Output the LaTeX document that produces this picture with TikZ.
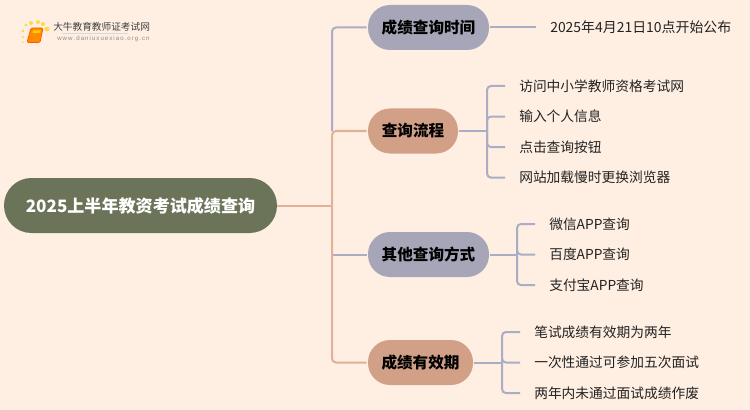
\documentclass[tikz,border=0pt]{standalone}
\usepackage{fontspec}
\setmainfont{Noto Sans CJK SC}
\newfontfamily\latinfont{Liberation Sans}
\usetikzlibrary{positioning}
\definecolor{fondo}{HTML}{FFEFE2}
\definecolor{raiz}{HTML}{6B7359}
\definecolor{gris}{HTML}{A6A6B8}
\definecolor{cobre}{HTML}{D2A087}
\definecolor{lineagris}{HTML}{ABADC4}
\definecolor{lineacobre}{HTML}{E2B096}
\definecolor{texto}{HTML}{222222}

\begin{document}
\begin{tikzpicture}[
		x=0.75pt, y=-0.75pt,
		% --- estilos de los bloques ---
		root_box/.style = {fill=raiz, text=white, rectangle, rounded corners=20.5pt, minimum height=41.25pt, minimum width=204.75pt, inner sep=0pt, font=\fontsize{12.8pt}{16pt}\selectfont\bfseries},
		topic_gray/.style = {fill=gris, text=black, rectangle, rounded corners=16.5pt, minimum height=33.75pt, inner sep=0pt, font=\fontsize{11.7pt}{14pt}\selectfont\bfseries},
		topic_copper/.style = {topic_gray, fill=cobre},
		leaf/.style = {text=texto, inner xsep=10.5pt, inner ysep=0pt, minimum height=15pt, font=\fontsize{10.3pt}{13pt}\selectfont},
		% --- estilos de las lineas ---
		link_gray/.style = {draw=lineagris, line width=1.5pt, rounded corners=3pt},
		link_copper/.style = {draw=lineacobre, line width=1.5pt, rounded corners=3pt}
		]
		
		\useasboundingbox [fill=fondo] (0,0) rectangle (750,410);
		
		% =========================================================================
		% 1. BLOQUES
		% =========================================================================
		\node [root_box] (root) at (140.5,205.5) {2025上半年教资考试成绩查询};
		
		\node [topic_gray, minimum width=90.75pt] (time) at (428.5,27.5) {成绩查询时间};
		\node [topic_copper, minimum width=67.5pt] (process) at (413,131) {查询流程};
		\node [topic_gray, minimum width=90.75pt] (other) at (428.5,254.5) {其他查询方式};
		\node [topic_copper, minimum width=78.75pt] (valid) at (420.5,362.5) {成绩有效期};
		
		% Hojas
		\node [leaf, anchor=west, font=\fontsize{10.45pt}{13pt}\selectfont] (start) at (536,27.5) {2025年4月21日10点开始公布};
		
		\node [leaf, anchor=west] (visit) at (505,86) {访问中小学教师资格考试网};
		\node [leaf] (input) [below=7.5pt of visit.south west, anchor=north west] {输入个人信息};
		\node [leaf] (click) [below=7.5pt of input.south west, anchor=north west] {点击查询按钮};
		\node [leaf] (change) [below=7.5pt of click.south west, anchor=north west] {网站加载慢时更换浏览器};
		
		\node [leaf, anchor=west] (wechat) at (535,224) {微信APP查询};
		\node [leaf] (baidu) [below=7.5pt of wechat.south west, anchor=north west] {百度APP查询};
		\node [leaf] (alipay) [below=7.5pt of baidu.south west, anchor=north west] {支付宝APP查询};
		
		\node [leaf, anchor=west] (written) at (520,332) {笔试成绩有效期为两年};
		\node [leaf] (once) [below=7.5pt of written.south west, anchor=north west] {一次性通过可参加五次面试};
		\node [leaf] (expire) [below=7.5pt of once.south west, anchor=north west] {两年内未通过面试成绩作废};
		
		% =========================================================================
		% 2. CONECTORES
		% =========================================================================
		\coordinate (trunk) at (332,205.5);
		\coordinate (fork_process) at (487,131);
		\coordinate (fork_other) at (517,254.5);
		\coordinate (fork_valid) at (502,362.5);
		
		% Tronco central
		\draw [link_gray] (332,131) |- ([xshift=-0.75pt]time.west);
		\draw [link_gray] (332,254.5) -- ([xshift=-0.75pt]other.west);
		\draw [link_copper] (root.east) -- (trunk);
		\draw [link_copper] (trunk) |- ([xshift=-0.75pt]process.west);
		\draw [link_copper] (trunk) |- ([xshift=-0.75pt]valid.west);
		
		% Ramas hacia las hojas
		\draw [link_gray] ([xshift=0.75pt]time.east) -- (start.west);
		\draw [link_gray] ([xshift=0.75pt]process.east) -- (fork_process);
		\draw [link_gray] ([xshift=0.75pt]other.east) -- (fork_other);
		\draw [link_gray] ([xshift=0.75pt]valid.east) -- (fork_valid);
		\foreach \i in {visit, input, click, change}
			\draw [link_gray] (fork_process) |- (\i.west);
		\foreach \i in {wechat, baidu, alipay}
			\draw [link_gray] (fork_other) |- (\i.west);
		\foreach \i in {written, once, expire}
			\draw [link_gray] (fork_valid) |- (\i.west);
		
		% =========================================================================
		% 3. LOGO
		% =========================================================================
		\foreach \a/\b/\r in {23/42/0.9, 23/37/1.2, 23/31/1.5, 26/25/1.7, 31/23/2, 38/22/2, 43/24/2, 47/29/2.4}
			\fill [yellow!70!orange, opacity=0.7] (\a,\b) circle (\r);
		\draw [orange!70!red, fill=orange!90!yellow, line width=0.6pt, rounded corners=1pt] (31,28) -- (43,28) -- (40,42.5) -- (27,42.5) -- cycle;
		\fill [yellow!70!orange] (33,30.5) -- (40.5,30.5) -- (40,33) -- (32.5,33) -- cycle;
		\draw [black!15, line width=0.5pt] (62,33) -- (128,33);
		\node [text=black!75, inner sep=0pt, anchor=west, font=\fontsize{7.25pt}{9pt}\selectfont] (logo_name) at (53,27) {大牛教育教师证考试网};
		\node [text=black!45, inner sep=0pt, anchor=west, font=\fontsize{4.6pt}{6pt}\latinfont] (logo_url) at (57,39) {w\,w\,w\,.\,d\,a\,n\,i\,u\,x\,u\,e\,x\,i\,a\,o\,.\,o\,r\,g\,.\,c\,n};
		
	\end{tikzpicture}
\end{document}
